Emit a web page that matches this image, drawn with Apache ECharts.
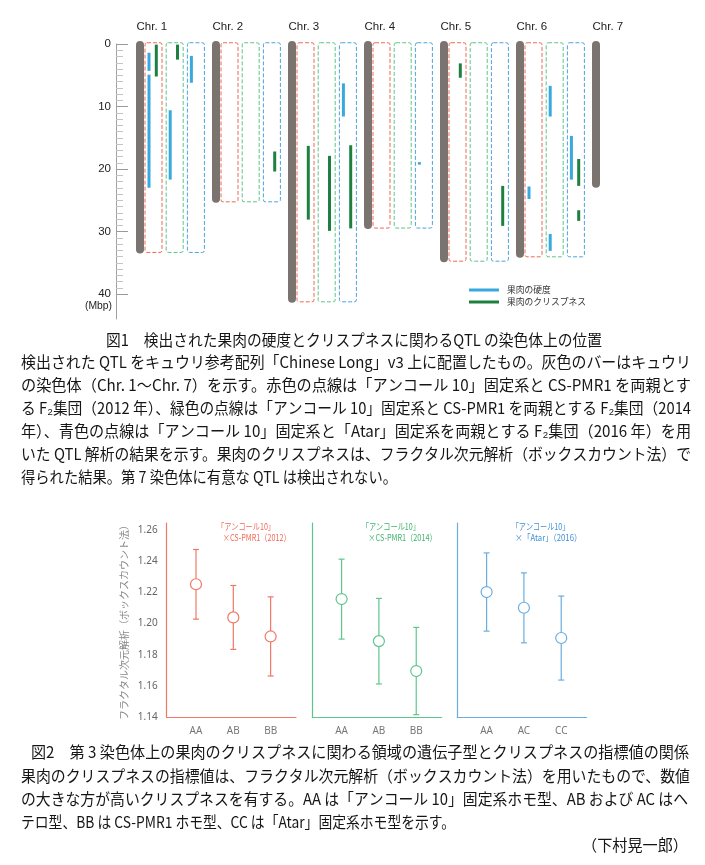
<!DOCTYPE html>
<html><head><meta charset="utf-8">
<script src="https://cdn.jsdelivr.net/npm/echarts@6/dist/echarts.min.js"></script>
<style>html,body{margin:0;padding:0;background:#fff}#c{width:705px;height:865px}</style>
</head><body><div id="c"></div>
<script>
// ---------- Figure 1 data ----------
const chromosomeNames = ['Chr. 1','Chr. 2','Chr. 3','Chr. 4','Chr. 5','Chr. 6','Chr. 7'];
const chromosomeLengths = [33.5, 25.4, 41.4, 29.6, 34.9, 34.2, 23.0];
const chromosomeHasBoxes = [1, 1, 1, 1, 1, 1, 0];
const populations = ['2012', '2014', '2016'];
const mbpTicks = [0, 10, 20, 30, 40];
// [chromosome index, population index, start Mbp, end Mbp]
const firmnessQTL = [
  [0, 0, 1.4, 4.3], [0, 0, 4.9, 23.0], [0, 1, 10.6, 21.7], [0, 2, 1.9, 6.2],
  [2, 2, 6.3, 11.6],
  [3, 2, 18.9, 19.3],
  [5, 0, 22.8, 24.8], [5, 1, 6.7, 11.6], [5, 1, 30.4, 33.1], [5, 2, 14.7, 21.7]
];
const crispnessQTL = [
  [0, 0, 0.1, 5.2], [0, 1, 0.1, 2.5],
  [1, 2, 17.2, 20.4],
  [2, 0, 16.3, 28.1], [2, 1, 17.9, 29.9], [2, 2, 16.2, 29.5],
  [4, 0, 3.1, 5.4], [4, 2, 22.7, 29.1],
  [5, 2, 18.4, 22.7], [5, 2, 26.6, 28.3]
];
const legendLabels = ['果肉の硬度', '果肉のクリスプネス'];

// ---------- Figure 2 data ----------
const panelTitles = [['「アンコール10」', '×CS-PMR1（2012）'], ['「アンコール10」', '×CS-PMR1（2014）'], ['「アンコール10」', '×「Atar」（2016）']];
const genotypes2012 = ['AA', 'AB', 'BB'];
const mean2012 = [1.2252, 1.2039, 1.1917];
const upper2012 = [1.2475, 1.2244, 1.2171];
const lower2012 = [1.2028, 1.1834, 1.1663];
const genotypes2014 = ['AA', 'AB', 'BB'];
const mean2014 = [1.2157, 1.1887, 1.1695];
const upper2014 = [1.2413, 1.2161, 1.1975];
const lower2014 = [1.1900, 1.1612, 1.1415];
const genotypes2016 = ['AA', 'AC', 'CC'];
const mean2016 = [1.2202, 1.2101, 1.1907];
const upper2016 = [1.2453, 1.2325, 1.2176];
const lower2016 = [1.1951, 1.1876, 1.1637];
const fractalTicks = [1.14, 1.16, 1.18, 1.20, 1.22, 1.24, 1.26];
const fractalAxisName = 'フラクタル次元解析（ボックスカウント法）';

// ---------- Captions ----------
const fig1Title = '図1　検出された果肉の硬度とクリスプネスに関わるQTL の染色体上の位置';
const fig1Lines = [
  '検出された QTL をキュウリ参考配列「Chinese Long」v3 上に配置したもの。灰色のバーはキュウリ',
  'の染色体（Chr. 1～Chr. 7）を示す。赤色の点線は「アンコール 10」固定系と CS-PMR1 を両親とす',
  'る F₂集団（2012 年）、緑色の点線は「アンコール 10」固定系と CS-PMR1 を両親とする F₂集団（2014',
  '年）、青色の点線は「アンコール 10」固定系と「Atar」固定系を両親とする F₂集団（2016 年）を用',
  'いた QTL 解析の結果を示す。果肉のクリスプネスは、フラクタル次元解析（ボックスカウント法）で',
  '得られた結果。第 7 染色体に有意な QTL は検出されない。'
];
const fig2Title = '図2　第 3 染色体上の果肉のクリスプネスに関わる領域の遺伝子型とクリスプネスの指標値の関係';
const fig2Lines = [
  '果肉のクリスプネスの指標値は、フラクタル次元解析（ボックスカウント法）を用いたもので、数値',
  'の大きな方が高いクリスプネスを有する。AA は「アンコール 10」固定系ホモ型、AB および AC はヘ',
  'テロ型、BB は CS-PMR1 ホモ型、CC は「Atar」固定系ホモ型を示す。'
];
const authorText = '（下村晃一郎）';

// ---------- styles / layout ----------
const CJK = '"Noto Sans CJK JP", sans-serif';
const LAT = '"Liberation Sans", Arial, sans-serif';
const BOX_COLORS = ['#ee6a55', '#5cc488', '#4da3dc'];
const BOX_OFF = [5, 26.2, 47.4];
const FIRM_COLOR = '#38a9de';
const CRISP_COLOR = '#1e8040';
const PANEL_COLORS = ['#f07866', '#5ec68c', '#6aaee0'];
const PANEL_TEXT = ['#f06a58', '#3db56c', '#3f8fd6'];

const mctx = document.createElement('canvas').getContext('2d');
function tw(str, size, fam) { mctx.font = size + 'px ' + fam; return mctx.measureText(str).width; }
function fitText(str, left, cy, right, size, fam, color) {
  const w = tw(str, size, fam);
  const s = right != null ? (right - left) / w : 1;
  return { type: 'text', x: left, y: cy, scaleX: s, silent: true,
    style: { text: str, x: 0, y: 0, fontSize: size, fontFamily: fam, fill: color,
      align: 'left', textAlign: 'left', verticalAlign: 'middle', textVerticalAlign: 'middle' } };
}

const chart = echarts.init(document.getElementById('c'), null, { renderer: 'canvas' });

function renderChrom(params, api) {
  const i = api.value(0), len = api.value(1), hasBox = api.value(2);
  const top = api.coord([i, -0.5]), bot = api.coord([i, len]);
  const c = top[0];
  const children = [{ type: 'rect', shape: { x: c - 4, y: top[1], width: 8, height: bot[1] - top[1], r: 4 }, style: { fill: '#7a7370' } }];
  if (hasBox) {
    const bt = api.coord([i, -0.2])[1], bb = api.coord([i, len - 0.15])[1];
    BOX_COLORS.forEach((col, k) => {
      children.push({ type: 'rect', shape: { x: c + BOX_OFF[k], y: bt, width: 17, height: bb - bt, r: 2 },
        style: { fill: 'none', stroke: col, lineWidth: 1, lineDash: [4, 2] } });
    });
  }
  children.push({ type: 'text', x: c - 3.5, y: top[1] - 14,
    style: { text: chromosomeNames[i], fontSize: 11.5, fontFamily: LAT, fill: '#222', align: 'left', verticalAlign: 'middle' } });
  return { type: 'group', children };
}
function qtlRenderer(color, lane) {
  return function (params, api) {
    const chr = api.value(0), pop = api.value(1);
    const c = api.coord([chr, 0])[0];
    const x = c + BOX_OFF[pop] + lane;
    const y1 = api.coord([chr, api.value(2)])[1], y2 = api.coord([chr, api.value(3)])[1];
    return { type: 'line', shape: { x1: x, y1: y1, x2: x, y2: y2 }, style: { stroke: color, lineWidth: 3, lineCap: 'butt' } };
  };
}

const TOP_W = 532, TOP_MIN = -24 / 76;
const grids = [
  { left: 116, top: 44, width: TOP_W, height: 275 },
  { left: 116, top: 44, width: TOP_W, height: 250 }
];
const xAxes = [
  { gridIndex: 0, type: 'value', min: TOP_MIN, max: TOP_MIN + 7, show: false, axisLine: { onZero: false } },
  { gridIndex: 1, type: 'value', min: 0, max: 1, show: false, axisLine: { onZero: false } }
];
const yAxes = [
  { gridIndex: 0, type: 'value', inverse: true, min: 0, max: 44,
    axisLine: { show: true, onZero: false, lineStyle: { color: '#a0a0a0', width: 1 } }, axisTick: { show: false }, axisLabel: { show: false }, splitLine: { show: false } },
  { gridIndex: 1, type: 'value', inverse: true, min: 0, max: 40, interval: 10,
    axisLine: { show: false, onZero: false }, axisTick: { show: true, inside: true, length: 12, lineStyle: { color: '#9a9a9a' } },
    minorTick: { show: true, splitNumber: 10, length: 7, lineStyle: { color: '#c4c4c4' } },
    axisLabel: { show: true, customValues: mbpTicks, color: '#222', fontSize: 11.5, fontFamily: LAT, margin: 5 }, splitLine: { show: false } }
];

const panelLefts = [166.7, 312.3, 457.3];
const panelCats = [genotypes2012, genotypes2014, genotypes2016];
const panelMeans = [mean2012, mean2014, mean2016];
const panelUpper = [upper2012, upper2014, upper2016];
const panelLower = [lower2012, lower2014, lower2016];
const series = [
  { type: 'custom', xAxisIndex: 0, yAxisIndex: 0, renderItem: renderChrom, encode: { x: 0, y: 1 },
    data: chromosomeLengths.map((l, i) => [i, l, chromosomeHasBoxes[i]]), z: 1, silent: true },
  { type: 'custom', xAxisIndex: 0, yAxisIndex: 0, renderItem: qtlRenderer(FIRM_COLOR, 4), encode: { x: 0, y: [2, 3] },
    data: firmnessQTL, z: 3, silent: true },
  { type: 'custom', xAxisIndex: 0, yAxisIndex: 0, renderItem: qtlRenderer(CRISP_COLOR, 11.3), encode: { x: 0, y: [2, 3] },
    data: crispnessQTL, z: 3, silent: true }
];

panelLefts.forEach((left, p) => {
  const gi = p + 2;
  const col = PANEL_COLORS[p];
  grids.push({ left: left, top: 523, width: 129.3, height: 194 });
  xAxes.push({ gridIndex: gi, type: 'value', min: -0.785, max: 2.68,
    axisLine: { show: true, onZero: false, lineStyle: { color: col, width: 1.2 } }, axisTick: { show: false }, splitLine: { show: false },
    axisLabel: { show: true, customValues: [0, 1, 2], formatter: (v) => panelCats[p][Math.round(v)], color: '#777', fontSize: 10, fontFamily: '"Noto Sans", sans-serif', margin: 9 } });
  yAxes.push({ gridIndex: gi, type: 'value', min: 1.14, max: 1.2645,
    axisLine: { show: true, onZero: false, lineStyle: { color: col, width: 1.2 } }, axisTick: { show: false }, splitLine: { show: false },
    axisLabel: { show: p === 0, customValues: fractalTicks, formatter: (v) => v.toFixed(2), color: '#666', fontSize: 10, fontFamily: '"Noto Sans", sans-serif', margin: 9 },
    name: p === 0 ? fractalAxisName : '', nameLocation: 'middle', nameGap: 37, nameRotate: 90,
    nameTextStyle: { color: '#888', fontSize: 10, fontFamily: CJK } });
  series.push({ type: 'custom', xAxisIndex: gi, yAxisIndex: gi, encode: { x: 0, y: [1, 2] }, silent: true, z: 2,
    data: panelCats[p].map((c, k) => [k, panelLower[p][k], panelUpper[p][k]]),
    renderItem: (params, api) => {
      const lo = api.coord([api.value(0), api.value(1)]);
      const hi = api.coord([api.value(0), api.value(2)]);
      const st = { stroke: col, lineWidth: 1.2 };
      return { type: 'group', children: [
        { type: 'line', shape: { x1: lo[0], y1: lo[1], x2: hi[0], y2: hi[1] }, style: st },
        { type: 'line', shape: { x1: lo[0] - 3, y1: lo[1], x2: lo[0] + 3, y2: lo[1] }, style: st },
        { type: 'line', shape: { x1: hi[0] - 3, y1: hi[1], x2: hi[0] + 3, y2: hi[1] }, style: st }
      ] };
    } });
  series.push({ type: 'scatter', xAxisIndex: gi, yAxisIndex: gi, silent: true, z: 3,
    data: panelMeans[p].map((m, k) => [k, m]), symbol: 'circle', symbolSize: 11,
    itemStyle: { color: '#fff', borderColor: col, borderWidth: 1.2, opacity: 1 } });
});

// graphic: captions, legend, panel titles
const graphics = [];
graphics.push({ type: 'line', shape: { x1: 469, y1: 290, x2: 499, y2: 290 }, style: { stroke: FIRM_COLOR, lineWidth: 3 }, silent: true });
graphics.push({ type: 'line', shape: { x1: 469, y1: 302, x2: 499, y2: 302 }, style: { stroke: CRISP_COLOR, lineWidth: 3 }, silent: true });
graphics.push(fitText(legendLabels[0], 507, 290, 550.7, 9, CJK, '#333'));
graphics.push(fitText(legendLabels[1], 507, 302, 586, 9, CJK, '#333'));
graphics.push(fitText('(Mbp)', 85, 305.5, 112, 11, LAT, '#222'));

const ptPos = [[217, 275, 222.7, 290.7], [361.7, 420, 368.3, 436.7], [511.7, 569.3, 515, 581.7]];
ptPos.forEach((q, p) => {
  graphics.push(fitText(panelTitles[p][0], q[0], 526.5, q[1], 9, CJK, PANEL_TEXT[p]));
  graphics.push(fitText(panelTitles[p][1], q[2], 537.5, q[3], 9, CJK, PANEL_TEXT[p]));
});

const FS = 15.5, TXT = '#151515';
graphics.push(fitText(fig1Title, 106, 340.5, 602, FS, CJK, TXT));
const f1y = [362, 385, 408, 431, 454, 477];
fig1Lines.forEach((l, k) => graphics.push(fitText(l, 21, f1y[k], k < 5 ? 691 : 397, FS, CJK, TXT)));
graphics.push(fitText(fig2Title, 31, 752.5, 689, FS, CJK, TXT));
const f2y = [776.5, 799.5, 822.5];
const f2r = [690, 688, 455];
fig2Lines.forEach((l, k) => graphics.push(fitText(l, 21, f2y[k], f2r[k], FS, CJK, TXT)));
graphics.push(fitText(authorText, 582, 845.5, 688, FS, CJK, TXT));

chart.setOption({
  animation: false,
  backgroundColor: '#fff',
  grid: grids, xAxis: xAxes, yAxis: yAxes, series: series,
  graphic: { elements: graphics }
});
</script></body></html>
